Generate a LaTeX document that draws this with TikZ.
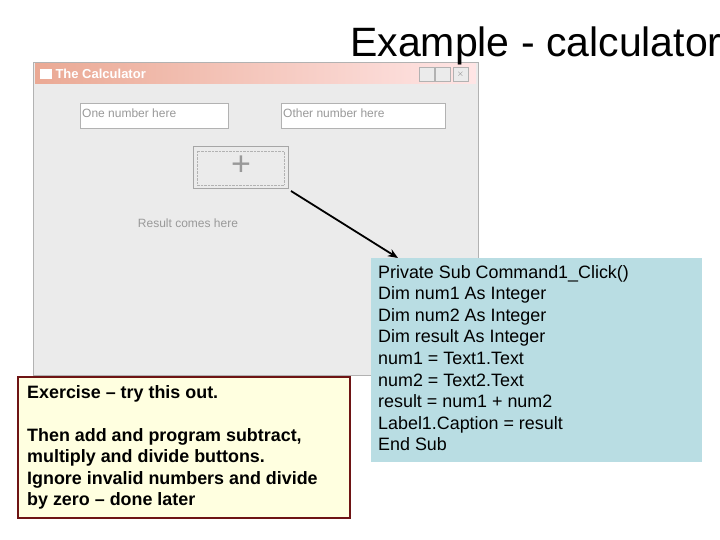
\documentclass[tikz,border=0pt]{standalone}
\usepackage{fontspec}
\setmainfont{Liberation Sans}
\usetikzlibrary{arrows.meta}
\begin{document}
\begin{tikzpicture}[x=1pt,y=-1pt,
 tbox/.style={draw=gray!60,fill=white},
 small/.style={font=\fontsize{12}{13}\selectfont,text=gray!80,anchor=west,inner sep=1pt},
 bodytext/.style={font=\fontsize{17.9}{21.6}\selectfont,align=left,anchor=north west,inner sep=0pt}]
\useasboundingbox (0,0) rectangle (720,540);
\begin{scope}
\clip (0,0) rectangle (720,540);
% window
\fill[black!8!white,draw=gray!60] (33,62) rectangle (478,375);
\shade[left color=red!35!brown!50!white,right color=red!10!white] (35,64) rectangle (476,84);
\node[font=\fontsize{13}{14}\selectfont\bfseries,text=white,anchor=west] (wt) at (52,74) {The Calculator};
\fill[white] (40,69) rectangle (52,79);
\foreach \x in {419,435,453}{\draw[gray!60,fill=black!8!white] (\x,67) rectangle (\x+15,81);}
\node[font=\small,text=gray] (xb) at (460.5,74) {$\times$};
\draw[tbox] (80,103) rectangle (228,128);
\node[small] (t1) at (81,113) {One number here};
\draw[tbox] (281,103) rectangle (445,128);
\node[small] (t2) at (282,113) {Other number here};
\draw[gray!70,fill=black!8!white,line width=1pt] (193,147) rectangle (288,189);
\draw[gray!60,densely dotted] (197,151) rectangle (284,185);
\node[font=\fontsize{34}{34}\selectfont,text=gray!80] (plus) at (241,166) {+};
\coordinate (btn) at (291,191);
\node[small,anchor=center] (res) at (188,223) {Result comes here};
% title
\node[font=\fontsize{41}{44}\selectfont,anchor=west,inner sep=0pt] (title) at (350,46) {Example - calculator};
% code box
\fill[fill={rgb,255:red,185;green,221;blue,227}] (371,258) rectangle (702,462);
\node[bodytext] (code) at (378,265) {Private Sub Command1\_Click()\\Dim num1 As Integer\\Dim num2 As Integer\\Dim result As Integer\\num1 = Text1.Text\\num2 = Text2.Text\\result = num1 + num2\\Label1.Caption = result\\End Sub};
\coordinate (tip) at (398,258);
\draw[line width=1.8pt,-{Stealth[length=10pt,width=8pt]}] (btn) -- (tip);
% exercise
\draw[draw={rgb,255:red,110;green,20;blue,20},line width=1.5pt,fill={rgb,255:red,255;green,255;blue,224}] (18,377) rectangle (350,518);
\node[bodytext,font=\fontsize{17.9}{21.6}\selectfont\bfseries] (ex1) at (27,385) {Exercise -- try this out.};
\node[bodytext,font=\fontsize{17.9}{21.6}\selectfont\bfseries] (ex2) at (27,428) {Then add and program subtract,\\multiply and divide buttons.\\Ignore invalid numbers and divide\\by zero -- done later};
\end{scope}
\end{tikzpicture}
\end{document}
